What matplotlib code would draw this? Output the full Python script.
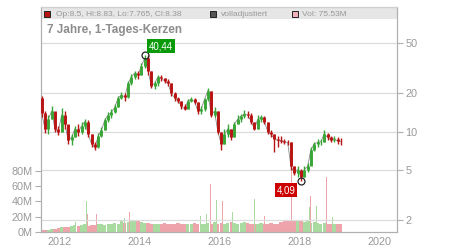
import matplotlib
matplotlib.use("Agg")
import matplotlib.pyplot as plt
import numpy as np
from matplotlib.patches import Rectangle
from matplotlib.ticker import FixedLocator, FuncFormatter, NullLocator

plt.rcParams['font.family'] = ['Liberation Sans', 'DejaVu Sans']

# monthly candles, Jul 2011 .. Jan 2019
first_open = 18.5
close = [14, 10.5, 12.5, 14.5, 10.5, 10, 13.5, 11.5, 8.5, 9,
         10.5, 10, 11, 12, 9.5, 8, 7.5, 9.2, 10.3, 12.3,
         13.5, 14.2, 15.6, 18.4, 19.5, 18.7, 24, 27, 29, 28,
         33, 38, 30, 23, 24, 27, 26.5, 25, 24, 20,
         18.5, 17.5, 16, 15, 17.5, 18, 17.2, 14.5, 15, 18,
         21, 13.5, 14.5, 10, 8, 9.5, 10.5, 9, 11.5, 12.5,
         13.2, 13.8, 13.5, 12, 10.5, 12.5, 13, 12, 10, 9.5,
         8.8, 8.5, 8.4, 8.3, 8.2, 5.3, 4.7, 5, 4.4, 5,
         5.3, 7.2, 8, 8.2, 8.3, 9.6, 9, 8.6, 8.8, 8.4, 8.38]
high = [19, 14.5, 13.5, 15.9, 14, 11, 15.3, 14.5, 11, 9.5,
        11, 11.5, 11.8, 12.5, 12.4, 9.5, 8.2, 9.8, 10.8, 12.8,
        14.2, 15, 16.5, 19, 20.5, 20, 25, 28.5, 30, 30,
        35, 40.44, 40, 30, 25, 28, 28, 26.5, 26, 24,
        20.5, 18.7, 17.5, 16.5, 18, 18.7, 18.5, 17, 16, 18.5,
        22, 21, 15.5, 14.5, 10, 10.5, 11.5, 10.5, 12, 13.5,
        13.8, 14.8, 14.5, 14, 12, 13.5, 13.5, 13.2, 12, 10.3,
        9.6, 9.3, 9.2, 8.8, 8.6, 8.3, 5.3, 5.3, 5.1, 5.3,
        5.6, 7.5, 8.3, 8.7, 8.8, 10.2, 9.8, 9.3, 9.2, 9, 8.83]
low = [13, 9.8, 9.5, 12.5, 10, 9.4, 10, 10.5, 8, 7.9,
       9, 9.3, 9.5, 10.5, 9, 7.5, 7.1, 7.4, 9, 10.3,
       12, 12.8, 14, 15.5, 18, 17.5, 18.5, 23.5, 26, 26,
       28, 32, 28, 22, 21.5, 23, 25, 24, 23, 19,
       17.5, 16.8, 15.2, 14.8, 15, 17, 16.5, 13.7, 13.7, 14.5,
       17.5, 13, 13, 9.5, 7.1, 8, 9, 8.5, 9, 11.5,
       12, 12.8, 12.8, 11.5, 10.2, 10.5, 12, 11.5, 9.5, 9,
       6.9, 7.5, 8.1, 8, 7.8, 5, 4.5, 4.4, 4.09, 4.4,
       4.8, 5.5, 7, 7.6, 7.8, 8.3, 8.6, 8.3, 8.2, 8, 7.765]
volume = [3, 3, 3, 4, 4, 5, 6, 7, 7, 8, 9, 8, 9, 10, 8, 9, 9, 10,
          10, 9, 10, 11, 12, 11, 14, 12, 13, 14, 14, 15, 13, 12,
          12, 11, 10, 11, 10, 12, 11, 10, 11, 12, 10, 11, 10, 11, 12, 11, 10, 11,
          12, 10, 13, 11, 12, 11, 12, 13, 12, 11, 12, 13, 12,
          11, 10, 11, 12, 11, 10, 12, 11, 10, 13, 14, 15, 14, 16, 15, 14,
          13, 14, 12, 13, 12, 11, 12, 11, 10, 11, 11, 11]

# single high-volume days
spike_t = [2012.18, 2012.39, 2012.66, 2012.69, 2012.91, 2013.16, 2013.38,
           2013.48, 2013.62, 2013.68, 2013.71, 2013.75, 2013.88, 2013.98,
           2014.08, 2014.23, 2014.28, 2014.36, 2014.53, 2014.78, 2014.86,
           2015.08, 2015.28, 2015.53, 2015.68, 2015.78, 2015.92, 2015.93,
           2016.08, 2016.21, 2016.29, 2016.33, 2016.54, 2016.88, 2017.13,
           2017.29, 2017.42, 2017.44, 2017.81, 2017.92, 2018.25, 2018.28,
           2018.43, 2018.54, 2018.68, 2018.75, 2018.83, 2019.02]
spike_vol = [22, 13, 40, 23, 23, 38, 30, 18, 18, 34, 38, 26, 23, 28,
             22, 22, 32, 21, 30, 32, 29, 20, 20, 21, 24, 62.5, 20, 41.5,
             40, 25, 30, 26, 31, 43, 21, 39, 50, 39, 80, 20, 33, 47,
             34, 46, 72, 26, 20, 75.5]
spike_up = [0, 1, 1, 0, 0, 1, 0, 1, 1, 0, 1, 0, 0, 1,
            0, 0, 0, 1, 0, 0, 1, 1, 1, 1, 1, 0, 0, 1,
            0, 0, 1, 1, 0, 1, 0, 1, 0, 1, 0, 0, 1, 0,
            1, 1, 0, 1, 1, 0]

price_ticks = [2, 5, 10, 20, 50]
vol_ticks = [0, 20, 40, 60, 80]
year_ticks = [2012, 2014, 2016, 2018, 2020]

RED = '#b81414'
GREEN = '#3aa537'
VRED = '#eea4ab'
VGREEN = '#a9dba0'
GRID = '#dcdcdc'
TXT = '#999999'

t = 2011.5 + (np.arange(len(close)) + 0.5) / 12
close = np.array(close)
opn = np.concatenate([[first_open], close[:-1]])
up = close >= opn

fig = plt.figure(figsize=(4.5, 2.5), dpi=100)
ax_v = fig.add_axes([41 / 450, 18 / 250, 356 / 450, 225 / 250])
ax_p = ax_v.twinx()

# volume
ax_v.bar(t, volume, width=1 / 12 * 0.95,
         color=[VGREEN if u else VRED for u in up], linewidth=0)
ax_v.bar(spike_t, spike_vol, width=0.014,
         color=[VGREEN if u else VRED for u in spike_up], linewidth=0)
ax_v.set_ylim(0, 295)
ax_v.yaxis.set_major_locator(FixedLocator(vol_ticks))
ax_v.yaxis.set_major_formatter(FuncFormatter(lambda v, p: '%dM' % v))
ax_v.add_patch(Rectangle((0, 0.947), 1, 0.053, transform=ax_v.transAxes,
                         facecolor='#e6e6e6', edgecolor='none', zorder=0))

# price
ax_p.set_yscale('log')
ax_p.set_ylim(1.61, 96.2)
ax_p.set_xlim(2011.525, 2020.45)
ax_p.plot(t, close, color='#888888', lw=0.6, zorder=2)
cols = [GREEN if u else RED for u in up]
ax_p.vlines(t, low, high, colors=cols, lw=1.0, zorder=3)
ax_p.vlines(t, np.minimum(opn, close), np.maximum(opn, close), colors=cols,
            lw=2.1, zorder=3)
ax_p.yaxis.set_major_locator(FixedLocator(price_ticks))
ax_p.yaxis.set_minor_locator(NullLocator())
ax_p.yaxis.set_major_formatter(FuncFormatter(lambda v, p: '%g' % v))
ax_p.xaxis.set_major_locator(FixedLocator(year_ticks))
ax_p.grid(True, color=GRID, lw=0.9)
ax_p.set_axisbelow(True)

# extremes
i_hi = int(np.argmax(high))
i_lo = int(np.argmin(low))
for i in (i_hi, i_lo):
    y = high[i] if i == i_hi else low[i]
    ax_p.plot(t[i], y, 'o', mfc='none', mec='#222222', mew=0.9, ms=5, zorder=5)
ax_p.text(2014.54, 47.3, '40,44', color='white', fontsize=7, ha='center',
          va='center', zorder=6,
          bbox=dict(boxstyle='square,pad=0.2', fc='#0a9a0a', ec='none'))
ax_p.text(2017.67, 3.45, '4,09', color='white', fontsize=7, ha='center',
          va='center', zorder=6,
          bbox=dict(boxstyle='square,pad=0.2', fc='#cc0000', ec='none'))

for a in (ax_v, ax_p):
    for s in a.spines.values():
        s.set_color('#b0b0b0')
    a.tick_params(colors='#b0b0b0', labelcolor=TXT, labelsize=7.8, length=4,
                  width=0.8)
ax_v.tick_params(axis='x', length=0)
ax_p.tick_params(axis='y', pad=2)
ax_v.tick_params(axis='y', pad=2)
ax_p.spines['top'].set_color('#d0d0d0')

# header band
tr = ax_p.transAxes
ax_p.plot([0.0169], [0.967], 's', transform=tr, ms=4.5, mfc=RED, mec='#222222',
          mew=0.7, clip_on=False)
ax_p.text(0.042, 0.967, 'Op:8.5, Hi:8.83, Lo:7.765, Cl:8.38', transform=tr,
          fontsize=6, color=TXT, va='center')
ax_p.plot([0.482], [0.967], 's', transform=tr, ms=4.5, mfc='#555555',
          mec='#222222', mew=0.7, clip_on=False)
ax_p.text(0.506, 0.967, 'volladjustiert', transform=tr, fontsize=6, color=TXT,
          va='center')
ax_p.plot([0.713], [0.967], 's', transform=tr, ms=4.5, mfc='#f0b0b8',
          mec='#222222', mew=0.7, clip_on=False)
ax_p.text(0.733, 0.967, 'Vol: 75.53M', transform=tr, fontsize=6, color=TXT,
          va='center')
ax_p.text(0.0169, 0.898, '7 Jahre, 1-Tages-Kerzen', transform=tr,
          fontsize=8.5, fontweight='bold', color='#8c8c8c', va='center')

fig.savefig('out.png', dpi=100)
